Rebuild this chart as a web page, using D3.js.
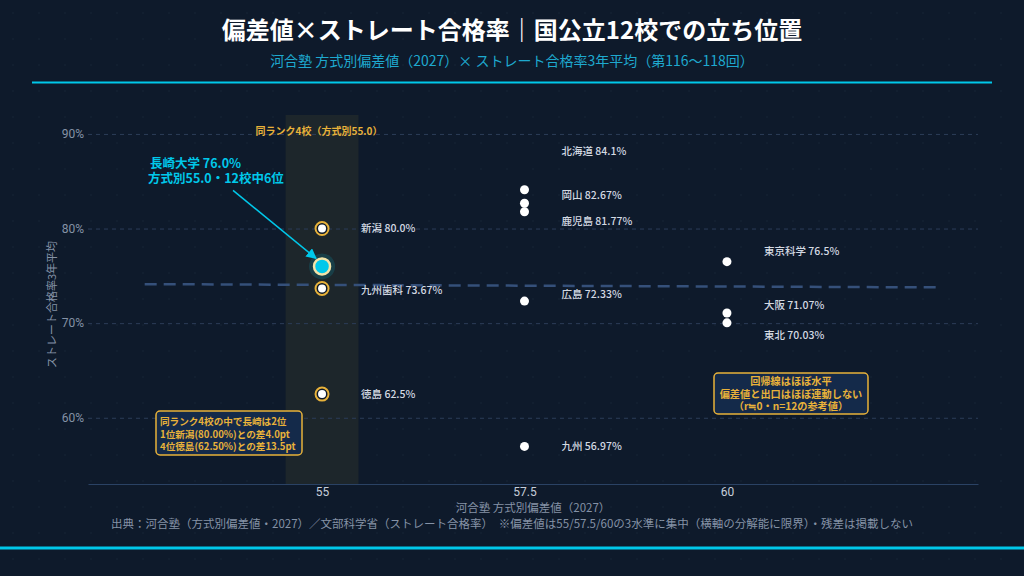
<!DOCTYPE html>
<html>
<head>
<meta charset="utf-8">
<script src="https://cdn.jsdelivr.net/npm/d3@7"></script>
<style>
	html, body { margin: 0; padding: 0; background: #0e1a2b; }
	svg { display: block; font-family: "Noto Sans CJK JP", "Noto Sans", sans-serif; }
</style>
</head>
<body>
<svg id="chart" width="1024" height="576"></svg>
<script>
// data
var schools = ["新潟", "長崎", "九州歯科", "徳島", "北海道", "岡山", "鹿児島", "広島", "九州", "東京科学", "大阪", "東北"];
var hensachi = [55, 55, 55, 55, 57.5, 57.5, 57.5, 57.5, 57.5, 60, 60, 60];
var passRate = [80.0, 76.0, 73.67, 62.5, 84.1, 82.67, 81.77, 72.33, 56.97, 76.5, 71.07, 70.03];
var rateText = ["80.0%", "76.0%", "73.67%", "62.5%", "84.1%", "82.67%", "81.77%", "72.33%", "56.97%", "76.5%", "71.07%", "70.03%"];
var xTicks = [55, 57.5, 60];
var yTicks = [60, 70, 80, 90];
var focus = "長崎";
var sameRank = 55;

// label nudges (px) so the labels don't overlap
var labelNudge = { "北海道": -38, "岡山": -8, "鹿児島": 10, "広島": -7, "東京科学": -10, "大阪": -8, "東北": 12, "九州歯科": 2 };

var width = 1024,
	height = 576;

var svg = d3.select("#chart");

var gold = "#e8b23a",
	cyan = "#00c8ea",
	bg = "#0e1a2b";

// background + faint dot pattern
var defs = svg.append("defs");
defs.append("pattern")
	.attr("id", "dots")
	.attr("width", 26).attr("height", 26)
	.attr("patternUnits", "userSpaceOnUse")
	.append("circle")
	.attr("cx", 13).attr("cy", 13).attr("r", 0.7)
	.attr("fill", "#172539");

svg.append("rect").attr("width", width).attr("height", height).attr("fill", bg);
svg.append("rect").attr("width", width).attr("height", height).attr("fill", "url(#dots)");

// title
svg.append("text")
	.attr("x", width / 2).attr("y", 39)
	.attr("text-anchor", "middle")
	.attr("fill", "#ffffff")
	.attr("font-size", 24).attr("font-weight", 700)
	.text("偏差値×ストレート合格率｜国公立12校での立ち位置");

svg.append("text")
	.attr("x", width / 2).attr("y", 66)
	.attr("text-anchor", "middle")
	.attr("fill", "#1ea9cf")
	.attr("font-size", 14)
	.text("河合塾 方式別偏差値（2027）× ストレート合格率3年平均（第116〜118回）");

svg.append("line")
	.attr("x1", 32).attr("x2", 992).attr("y1", 82.5).attr("y2", 82.5)
	.attr("stroke", cyan).attr("stroke-width", 2);

svg.append("line")
	.attr("x1", 0).attr("x2", width).attr("y1", 548).attr("y2", 548)
	.attr("stroke", cyan).attr("stroke-width", 3);

// scales
var plot = { left: 88, right: 978, top: 115, bottom: 484 };

var x = d3.scaleLinear().domain([52.11, 63.1]).range([plot.left, plot.right]);
var y = d3.scaleLinear().domain([53.0, 92.0]).range([plot.bottom, plot.top]);

// same rank band
svg.append("rect")
	.attr("x", x(sameRank - 0.45))
	.attr("width", x(sameRank + 0.45) - x(sameRank - 0.45))
	.attr("y", plot.top)
	.attr("height", plot.bottom - plot.top)
	.attr("fill", "#1d262b");

// grid
var yAxis = svg.append("g")
	.attr("transform", "translate(" + plot.left + ",0)")
	.call(d3.axisLeft(y).tickValues(yTicks).tickSize(-(plot.right - plot.left)).tickFormat(function (d) { return d + "%"; }));
yAxis.select(".domain").remove();
yAxis.selectAll(".tick line")
	.attr("stroke", "#2c3d58")
	.attr("stroke-dasharray", "4,4");
yAxis.selectAll(".tick text")
	.attr("x", -4)
	.attr("fill", "#8592a6")
	.attr("font-size", 12)
	.attr("font-family", "Roboto, sans-serif");

var xAxis = svg.append("g")
	.attr("transform", "translate(0," + plot.bottom + ")")
	.call(d3.axisBottom(x).tickValues(xTicks).tickSize(0).tickFormat(function (d) { return d; }));
xAxis.select(".domain").attr("stroke", "#2a4264");
xAxis.selectAll(".tick text")
	.attr("dy", "0.9em")
	.attr("y", 1)
	.attr("fill", "#c6ceda")
	.attr("font-size", 12)
	.attr("font-family", "Roboto, sans-serif");

// axis titles
svg.append("text")
	.attr("x", (plot.left + plot.right) / 2).attr("y", 512)
	.attr("text-anchor", "middle")
	.attr("fill", "#8592a6")
	.attr("font-size", 11.5)
	.text("河合塾 方式別偏差値（2027）");

svg.append("text")
	.attr("transform", "translate(52," + ((plot.top + plot.bottom) / 2 + 5) + ") rotate(-90)")
	.attr("text-anchor", "middle")
	.attr("dy", "0.35em")
	.attr("fill", "#8592a6")
	.attr("font-size", 11)
	.text("ストレート合格率3年平均");

// band label
svg.append("text")
	.attr("x", x(sameRank) - 3).attr("y", 135)
	.attr("text-anchor", "middle")
	.attr("fill", gold)
	.attr("font-size", 10).attr("font-weight", 700)
	.text("同ランク4校（方式別55.0）");

// regression line (least squares)
var mx = d3.mean(hensachi), my = d3.mean(passRate);
var sxy = d3.sum(hensachi, function (d, i) { return (d - mx) * (passRate[i] - my); });
var sxx = d3.sum(hensachi, function (d) { return (d - mx) * (d - mx); });
var slope = sxy / sxx, intercept = my - slope * mx;
var regExtent = [52.81, 62.6];

svg.append("line")
	.attr("x1", x(regExtent[0])).attr("y1", y(intercept + slope * regExtent[0]))
	.attr("x2", x(regExtent[1])).attr("y2", y(intercept + slope * regExtent[1]))
	.attr("stroke", "#35507a")
	.attr("stroke-width", 2.5)
	.attr("stroke-dasharray", "12,7");

// points
var data = schools.map(function (s, i) {
	return { name: s, x: hensachi[i], y: passRate[i], label: rateText[i] };
});

var pts = svg.append("g").attr("class", "points");

data.forEach(function (d) {
	var cx = x(d.x), cy = y(d.y);
	if (d.name == focus) {
		pts.append("circle").attr("cx", cx).attr("cy", cy).attr("r", 13)
			.attr("fill", cyan).attr("opacity", 0.15);
		pts.append("circle").attr("cx", cx).attr("cy", cy).attr("r", 8)
			.attr("fill", cyan)
			.attr("stroke", "#f3e3a8").attr("stroke-width", 2.5);
	} else if (d.x == sameRank) {
		pts.append("circle").attr("cx", cx).attr("cy", cy).attr("r", 6.5)
			.attr("fill", bg)
			.attr("stroke", gold).attr("stroke-width", 2);
		pts.append("circle").attr("cx", cx).attr("cy", cy).attr("r", 4)
			.attr("fill", "#ffffff");
	} else {
		pts.append("circle").attr("cx", cx).attr("cy", cy).attr("r", 4.5)
			.attr("fill", "#ffffff");
	}
});

// point labels
svg.append("g")
	.selectAll("text")
	.data(data.filter(function (d) { return d.name != focus; }))
	.enter()
	.append("text")
	.attr("x", function (d) { return x(d.x) + (d.x == sameRank ? 39 : 37); })
	.attr("y", function (d) { return y(d.y) + (labelNudge[d.name] || 0); })
	.attr("dy", "0.35em")
	.attr("fill", "#d3d9e2")
	.attr("font-size", 10.5)
	.attr("font-weight", 500)
	.text(function (d) { return d.name + " " + d.label; });

// focus annotation
var fd = data.filter(function (d) { return d.name == focus; })[0];

defs.append("marker")
	.attr("id", "arrow")
	.attr("viewBox", "0 0 10 10")
	.attr("refX", 9).attr("refY", 5)
	.attr("markerWidth", 7).attr("markerHeight", 7)
	.attr("orient", "auto")
	.append("path")
	.attr("d", "M0,0 L10,5 L0,10 z")
	.attr("fill", cyan);

svg.append("line")
	.attr("x1", x(fd.x) - 89).attr("y1", y(fd.y) - 76)
	.attr("x2", x(fd.x) - 6).attr("y2", y(fd.y) - 8)
	.attr("stroke", cyan).attr("stroke-width", 1.5)
	.attr("marker-end", "url(#arrow)");

var ann = svg.append("text")
	.attr("fill", cyan)
	.attr("font-size", 12.5).attr("font-weight", 700)
	.attr("text-anchor", "start");
ann.append("tspan").attr("x", 150).attr("y", 168).text("長崎大学 76.0%");
ann.append("tspan").attr("x", 148).attr("y", 183).text("方式別55.0・12校中6位");

// boxes
function noteBox(lines, bx, by, bw, bh, anchor, tx, ty, fs) {
	svg.append("rect")
		.attr("x", bx).attr("y", by).attr("width", bw).attr("height", bh)
		.attr("rx", 4)
		.attr("fill", "#142a4a")
		.attr("stroke", gold).attr("stroke-width", 1.5);
	var t = svg.append("text")
		.attr("fill", gold)
		.attr("font-size", fs).attr("font-weight", 700)
		.attr("text-anchor", anchor);
	lines.forEach(function (l, i) {
		t.append("tspan").attr("x", tx).attr("y", ty + i * 12.7).text(l);
	});
}

noteBox(["同ランク4校の中で長崎は2位", "1位新潟(80.00%)との差4.0pt", "4位徳島(62.50%)との差13.5pt"],
	156, 411, 146, 44, "start", 160, 425, 9.6);

noteBox(["回帰線はほぼ水平", "偏差値と出口はほぼ連動しない", "（r≒0・n=12の参考値）"],
	714, 373, 154, 41, "middle", 791, 385, 10.2);

// footnote
svg.append("text")
	.attr("x", width / 2).attr("y", 528)
	.attr("text-anchor", "middle")
	.attr("fill", "#8592a6")
	.attr("font-size", 11.5)
	.text("出典：河合塾（方式別偏差値・2027）／文部科学省（ストレート合格率）　※偏差値は55/57.5/60の3水準に集中（横軸の分解能に限界）・残差は掲載しない");
</script>
</body>
</html>
